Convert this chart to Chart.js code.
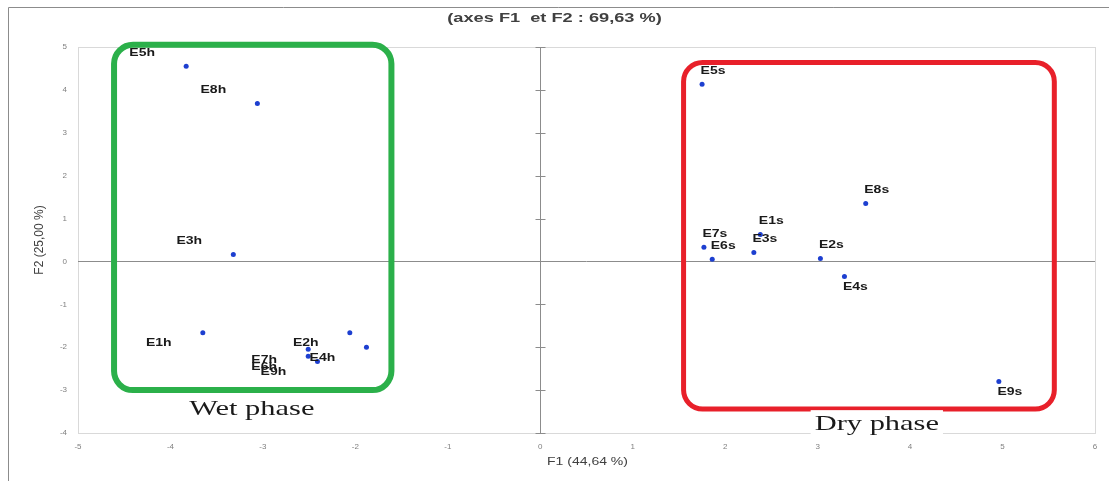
<!DOCTYPE html>
<html>
<head>
<meta charset="utf-8">
<script src="https://cdn.jsdelivr.net/npm/chart.js@4.4.1/dist/chart.umd.min.js"></script>
<style>
  body { margin: 0; background: #fff; }
</style>
</head>
<body>
<canvas id="myChart" width="1109" height="481"></canvas>
<script>
'use strict';
//globals - values
let wetNames = ['E1h', 'E2h', 'E3h', 'E4h', 'E5h', 'E6h', 'E7h', 'E8h', 'E9h'];
let wetF1 = [-3.65, -2.06, -3.32, -1.88, -3.83, -2.51, -2.51, -3.06, -2.41];
let wetF2 = [-1.66, -1.66, 0.16, -2.00, 4.55, -2.21, -2.05, 3.68, -2.33];

let dryNames = ['E1s', 'E2s', 'E3s', 'E4s', 'E5s', 'E6s', 'E7s', 'E8s', 'E9s'];
let dryF1 = [2.38, 3.03, 2.31, 3.29, 1.75, 1.86, 1.77, 3.52, 4.96];
let dryF2 = [0.63, 0.07, 0.21, -0.35, 4.13, 0.05, 0.33, 1.35, -2.80];

let xTicks = [-5, -4, -3, -2, -1, 0, 1, 2, 3, 4, 5, 6];
let yTicks = [-4, -3, -2, -1, 0, 1, 2, 3, 4, 5];

let chartTitle = '(axes F1  et F2 : 69,63 %)';
let xTitle = 'F1 (44,64 %)';
let yTitle = 'F2 (25,00 %)';

// which side of the dot each name sits on
let wetLabelSide = ['below', 'below', 'above', 'below', 'above', 'below', 'below', 'above', 'below'];
let dryLabelSide = ['above', 'above', 'above', 'below', 'above', 'above', 'above', 'above', 'below'];

// phase boxes in axis units
let phaseBoxes = [
  { x1: -4.61, x2: -1.61, y1: 5.05, y2: -3.0, color: '#2bb04a', width: 6, text: 'Wet phase', tx: -3.12, ty: -3.42, bg: false },
  { x1: 1.55, x2: 5.56, y1: 4.64, y2: -3.44, color: '#e8202a', width: 5, text: 'Dry phase', tx: 3.64, ty: -3.77, bg: true }
];

// the original picture is stretched sideways, so its text is too
const STRETCH = 1.4;

function toPoints(xs, ys){
  return xs.map((x, i) => ({ x: x, y: ys[i] }));
}

function stretchedText(ctx, text, x, y, font, color, sx, rot = 0){
  ctx.save();
  ctx.translate(x, y);
  if(rot) ctx.rotate(rot);
  ctx.scale(sx, 1);
  ctx.font = font;
  ctx.fillStyle = color;
  ctx.textAlign = 'center';
  ctx.textBaseline = 'middle';
  ctx.fillText(text, 0, 0);
  ctx.restore();
}

//background, outer frame, plot frame, titles
const framePlugin = {
  id: 'frame',
  beforeDraw(chart){
    const ctx = chart.ctx;
    const a = chart.chartArea;
    ctx.save();
    ctx.fillStyle = '#fff';
    ctx.fillRect(0, 0, chart.width, chart.height);
    ctx.strokeStyle = '#8c8c8c';
    ctx.lineWidth = 1;
    ctx.beginPath();
    ctx.moveTo(8.5, chart.height);
    ctx.lineTo(8.5, 7.5);
    ctx.lineTo(chart.width, 7.5);
    ctx.stroke();
    ctx.strokeStyle = '#d9d9d9';
    ctx.strokeRect(a.left + 0.5, a.top + 0.5, a.right - a.left, a.bottom - a.top);
    ctx.restore();

    stretchedText(ctx, chartTitle, chart.width / 2, 18, 'bold 13px "Liberation Sans"', '#404040', STRETCH);
    stretchedText(ctx, xTitle, (a.left + a.right) / 2 + 1, 462, '10px "Liberation Sans"', '#404040', STRETCH);
    stretchedText(ctx, yTitle, 40, (a.top + a.bottom) / 2, '12px "Liberation Sans"', '#404040', 1, -Math.PI / 2);
  }
};

//small tick marks along the vertical zero axis
const crossPlugin = {
  id: 'crosses',
  beforeDatasetsDraw(chart){
    const ctx = chart.ctx;
    const xs = chart.scales.x;
    const ys = chart.scales.y;
    const x0 = Math.round(xs.getPixelForValue(0)) + 0.5;
    ctx.save();
    ctx.strokeStyle = '#8c8c8c';
    ctx.lineWidth = 1;
    ctx.beginPath();
    yTicks.forEach(v => {
      const py = Math.round(ys.getPixelForValue(v)) + 0.5;
      ctx.moveTo(x0 - 5, py);
      ctx.lineTo(x0 + 5, py);
    });
    ctx.stroke();
    ctx.restore();
  }
};

//point names + phase boxes
const labelPlugin = {
  id: 'names',
  afterDatasetsDraw(chart){
    const ctx = chart.ctx;
    const xs = chart.scales.x;
    const ys = chart.scales.y;
    ctx.save();

    phaseBoxes.forEach(b => {
      const left = xs.getPixelForValue(b.x1);
      const right = xs.getPixelForValue(b.x2);
      const top = ys.getPixelForValue(b.y1);
      const bottom = ys.getPixelForValue(b.y2);
      ctx.strokeStyle = b.color;
      ctx.lineWidth = b.width;
      ctx.beginPath();
      ctx.roundRect(left, top, right - left, bottom - top, 19);
      ctx.stroke();
    });

    chart.data.datasets.forEach((ds, di) => {
      const meta = chart.getDatasetMeta(di);
      meta.data.forEach((pt, i) => {
        const dy = ds.labelSide[i] === 'below' ? 11 : -13;
        stretchedText(ctx, ds.names[i], pt.x + ds.labelDx, pt.y + dy, 'bold 10px "Liberation Sans"', '#1a1a1a', STRETCH);
      });
    });

    phaseBoxes.forEach(b => {
      const cx = xs.getPixelForValue(b.tx);
      const cy = ys.getPixelForValue(b.ty);
      ctx.font = '21px "Liberation Serif"';
      const w = ctx.measureText(b.text).width * 1.45;
      if(b.bg){
        ctx.fillStyle = '#fff';
        ctx.fillRect(cx - w / 2 - 4, cy - 13, w + 8, 26);
      }
      stretchedText(ctx, b.text, cx, cy + 1, '21px "Liberation Serif"', '#1a1a1a', 1.45);
    });
    ctx.restore();
  }
};

const ctx = document.getElementById('myChart');

new Chart(ctx, {
  type: 'scatter',
  data: {
    datasets: [{
      label: 'Wet',
      names: wetNames,
      labelSide: wetLabelSide,
      labelDx: -44,
      data: toPoints(wetF1, wetF2),
      backgroundColor: '#1d3fd0',
      borderWidth: 0,
      pointRadius: 2.5
    },
    {
      label: 'Dry',
      names: dryNames,
      labelSide: dryLabelSide,
      labelDx: 11,
      data: toPoints(dryF1, dryF2),
      backgroundColor: '#1d3fd0',
      borderWidth: 0,
      pointRadius: 2.5
    }]
  },
  options: {
    responsive: false,
    animation: false,
    devicePixelRatio: 1,
    layout: { padding: { left: 8, right: 14, top: 47, bottom: 0 } },
    plugins: {
      legend: { display: false },
      tooltip: { enabled: false },
      title: { display: false }
    },
    scales: {
      x: {
        type: 'linear',
        min: -5,
        max: 6,
        afterFit(scale){ scale.height = 48; },
        afterBuildTicks(scale){ scale.ticks = xTicks.map(v => ({ value: v })); },
        border: { display: false },
        grid: {
          drawTicks: false,
          color: c => (c.tick && c.tick.value === 0 ? '#8c8c8c' : 'transparent')
        },
        ticks: {
          padding: 9,
          color: '#808080',
          font: { family: '"Liberation Sans"', size: 8 }
        }
      },
      y: {
        type: 'linear',
        min: -4,
        max: 5,
        afterFit(scale){ scale.width = 70; },
        afterBuildTicks(scale){ scale.ticks = yTicks.map(v => ({ value: v })); },
        border: { display: false },
        grid: {
          drawTicks: false,
          color: c => (c.tick && c.tick.value === 0 ? '#8c8c8c' : 'transparent')
        },
        ticks: {
          padding: 11,
          color: '#808080',
          font: { family: '"Liberation Sans"', size: 8 }
        }
      }
    }
  },
  plugins: [framePlugin, crossPlugin, labelPlugin]
});
</script>
</body>
</html>
